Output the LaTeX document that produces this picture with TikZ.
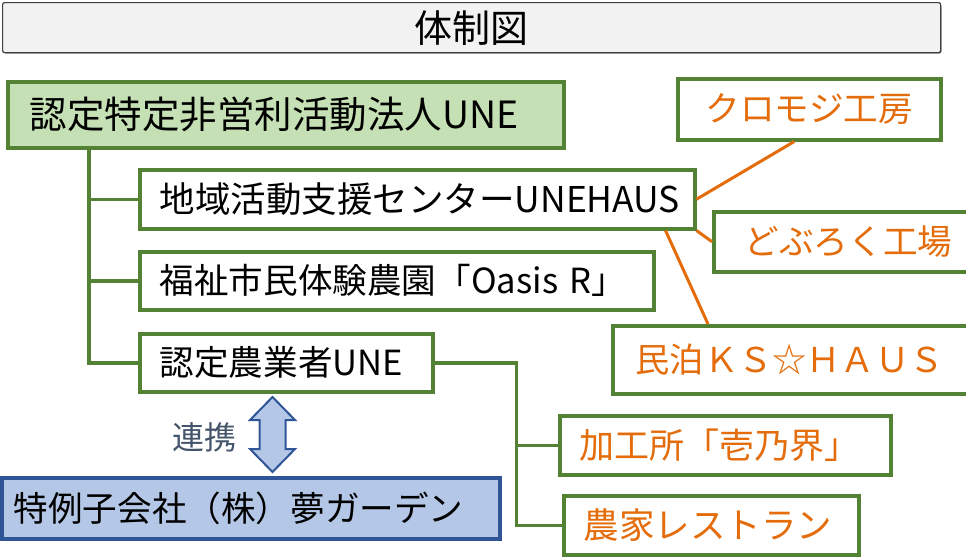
\documentclass[tikz,border=0pt]{standalone}
\usepackage{fontspec}
\setmainfont{Noto Sans CJK JP}
\usetikzlibrary{calc}
\definecolor{grn}{HTML}{548235}
\definecolor{grnfill}{HTML}{C5E0B4}
\definecolor{blu}{HTML}{2F5597}
\definecolor{blufill}{HTML}{B4C7E7}
\definecolor{org}{HTML}{E46C0A}
\definecolor{slate}{HTML}{44546A}
\definecolor{ttlfill}{HTML}{F2F2F2}
\definecolor{ttldraw}{HTML}{404040}
\newcommand{\fsz}[1]{\fontsize{#1}{#1}\selectfont}
\begin{document}
\begin{tikzpicture}[x=1pt,y=-1pt,
  box/.style={draw=grn, line width=3.5pt, fill=white, inner xsep=20pt, inner ysep=0pt,
    anchor=north west, align=left, font=\fsz{34.6}},
  cbox/.style={box, align=center},
  orgtext/.style={text=org},
  gline/.style={draw=grn, line width=3.5pt},
  oline/.style={draw=org, line width=3pt},
  bbox/.style={box, draw=blu, fill=blufill},
]
\useasboundingbox (0,0) rectangle (966,558);
% title
\fill[black!55, rounded corners=2pt] (3.5,4) rectangle (941.5,53.5);
\node[draw=ttldraw, line width=1.2pt, fill=ttlfill, rounded corners=2pt, anchor=north west,
  minimum width=938pt, minimum height=50pt, inner sep=0pt, font=\fsz{38}] (title) at (2,2) {体制図};
% left tree
\node[box, fill=grnfill, inner xsep=22pt, text width=512pt, minimum height=66pt, font=\fsz{37.5}] (main) at (6,80) {\mbox{認定特定非営利活動法人UNE}};
\node[box, text width=515pt, minimum height=59pt, font=\fsz{35.5}] (b2) at (138,168) {\mbox{地域活動支援センターUNEHAUS}};
\node[box, text width=474pt, minimum height=58pt] (b3) at (138,250) {\mbox{福祉市民体験農園「Oasis R」}};
\node[box, text width=253pt, minimum height=58pt] (b4) at (138,332) {\mbox{認定農業者UNE}};
% right boxes
\node[cbox, orgtext, inner xsep=10pt, text width=243pt, minimum height=61pt] (kuro) at (676,77) {\mbox{クロモジ工房}};
\node[box, orgtext, inner xsep=31pt, text width=208pt, minimum height=60pt] (dobu) at (712,210) {\mbox{どぶろく工場}};
\node[box, orgtext, inner xsep=23pt, text width=324pt, minimum height=68pt, font=\fsz{34.2}] (minpaku) at (611,324) {\mbox{民泊ＫＳ☆ＨＡＵＳ}};
\node[box, orgtext, text width=291pt, minimum height=59pt, font=\fsz{35}] (kakou) at (558,414) {\mbox{加工所「壱乃界」}};
\node[box, orgtext, text width=255pt, minimum height=59pt, font=\fsz{35.5}] (nouka) at (562,494) {\mbox{農家レストラン}};
% subsidiary
\node[bbox, inner xsep=12pt, text width=474pt, minimum height=61pt, font=\fsz{34.6}] (yume) at (0,476) {\mbox{特例子会社（株）夢ガーデン}};
% green connectors
\coordinate (trunk) at ([xshift=83pt]main.south west);
\draw[gline] (trunk) |- (b4.west);
\draw[gline] (trunk) |- (b2.west);
\draw[gline] (trunk) |- (b3.west);
\draw[gline] (b4.east) -- ++(82,0) coordinate (jn) |- (nouka.west);
\draw[gline] (jn |- kakou.west) -- (kakou.west);
% orange connectors
\draw[oline] (b2.east) -- ([xshift=-15pt]kuro.south);
\draw[oline] (b2.south east) -- (dobu.west);
\draw[oline] ([xshift=-31pt]b2.south east) -- ([xshift=97pt]minpaku.north west);
% cooperation arrow
\draw[draw=blu, line width=2pt, fill=blufill, line join=miter]
  (272.5,397) -- (295,420) -- (285.5,420) -- (285.5,449) -- (295,449) -- (272.5,472)
  -- (250,449) -- (259.5,449) -- (259.5,420) -- (250,420) -- cycle;
\node[text=slate, font=\fsz{32}, inner sep=0pt] (renkei) at (204,437) {連携};
\end{tikzpicture}
\end{document}
